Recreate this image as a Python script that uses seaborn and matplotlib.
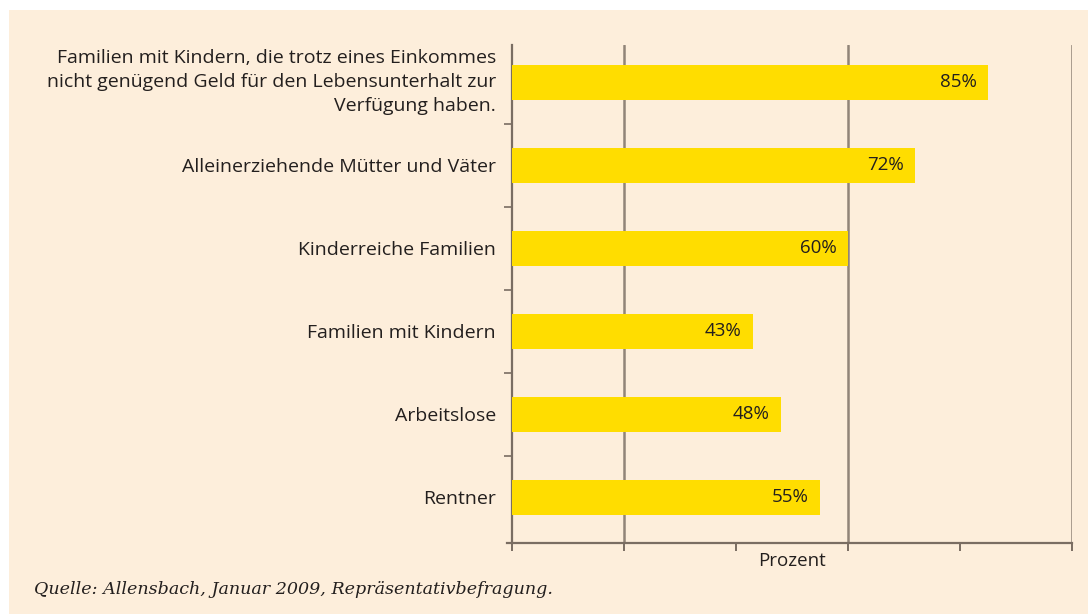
"""Allensbach 2009: groups seen as affected by poverty (horizontal bar chart)."""
import matplotlib.pyplot as plt
import matplotlib.patches as mpatches
import pandas as pd
import seaborn as sns

CATEGORIES = [
    "Familien mit Kindern, die trotz eines Einkommes\nnicht genügend Geld für den Lebensunterhalt zur\nVerfügung haben.",
    "Alleinerziehende Mütter und Väter",
    "Kinderreiche Familien",
    "Familien mit Kindern",
    "Arbeitslose",
    "Rentner",
]
VALUES = [85, 72, 60, 43, 48, 55]
X_TICKS = [0, 20, 40, 60, 80, 100]
GRID_AT = [20, 60, 100]

CREAM = "#fdeedb"
YELLOW = "#ffdd00"
GRID = "#918478"
AXIS = "#7a6d62"
TEXT = "#231f1e"


def main() -> None:
    df = pd.DataFrame({"group": CATEGORIES, "value": VALUES})

    sns.set_theme(style="white")
    plt.rcParams["font.family"] = ["Open Sans", "DejaVu Sans"]

    fig = plt.figure(figsize=(10.88, 6.14), dpi=100, facecolor="white")
    fig.patches.append(mpatches.Rectangle((9 / 1088, 0), 1, 1 - 10 / 614,
                                          transform=fig.transFigure,
                                          facecolor=CREAM, edgecolor="none", zorder=-10))
    ax = fig.add_axes([512 / 1088, 1 - 543 / 614, 560 / 1088, 498 / 614])
    ax.set_facecolor(CREAM)

    sns.barplot(data=df, x="value", y="group", orient="h", color=YELLOW,
                width=0.42, saturation=1, linewidth=0, ax=ax, zorder=3)

    for g in GRID_AT:
        ax.axvline(g, color=GRID, linewidth=1.8, zorder=1)

    for patch, v in zip(ax.patches, VALUES):
        y = patch.get_y() + patch.get_height() / 2
        ax.annotate(f"{v}%", (patch.get_width(), y), xytext=(-8, 0),
                    textcoords="offset points", ha="right", va="center",
                    fontsize=13.5, color=TEXT, zorder=4)

    ax.set_xlim(0, 100)
    ax.set_ylim(len(CATEGORIES) - 0.45, -0.45)
    ax.set_xticks(X_TICKS)
    ax.set_xticklabels([])
    ax.tick_params(axis="x", direction="out", length=6, width=1.4, color=AXIS, bottom=True)
    ax.set_xlabel("Prozent", fontsize=13.5, color=TEXT, labelpad=-3)

    ax.set_yticks(range(len(CATEGORIES)))
    ax.set_yticklabels(CATEGORIES, fontsize=14, color=TEXT, linespacing=1.42)
    ax.get_yticklabels()[0].set_verticalalignment("center")
    ax.tick_params(axis="y", which="major", length=0, pad=11.5)
    ax.set_yticks([i + 0.5 for i in range(len(CATEGORIES) - 1)], minor=True)
    ax.tick_params(axis="y", which="minor", direction="out", length=6, width=1.2,
                   color=AXIS, left=True)
    ax.set_ylabel("")

    for side in ("top", "right"):
        ax.spines[side].set_visible(False)
    for side in ("left", "bottom"):
        ax.spines[side].set_color(AXIS)
        ax.spines[side].set_linewidth(1.6)
    ax.spines["bottom"].set_bounds(-0.9, 100)

    fig.text(34 / 1088, 1 - 590 / 614, "Quelle: Allensbach, Januar 2009, Repräsentativbefragung.",
             fontsize=12.6, style="italic", family=["DejaVu Serif"],
             color=TEXT, va="center", ha="left")

    fig.savefig("out.png", dpi=100, facecolor="white")
    plt.close(fig)


if __name__ == "__main__":
    main()
